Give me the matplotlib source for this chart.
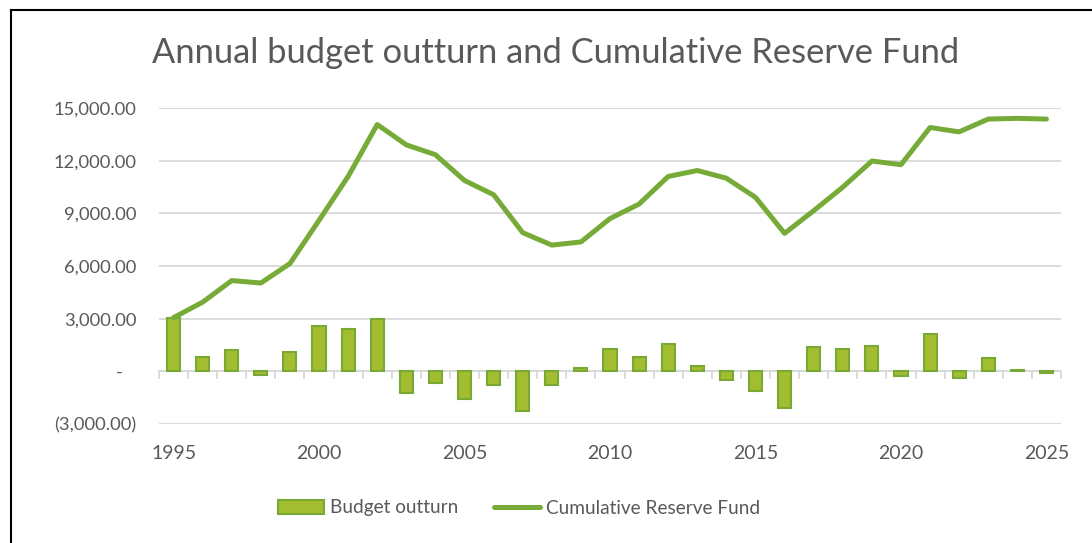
import matplotlib
matplotlib.use("Agg")
import matplotlib.pyplot as plt
from matplotlib.lines import Line2D
from matplotlib.ticker import FuncFormatter, MultipleLocator, FixedLocator
import numpy as np

years = list(range(1995, 2026))
budget_outturn = [3050, 820, 1240, -210, 1110, 2560, 2390, 2960, -1220, -650,
                  -1570, -800, -2240, -780, 190, 1300, 820, 1570, 330, -510,
                  -1130, -2100, 1360, 1300, 1420, -280, 2140, -360, 770, 60,
                  -90]
reserve_fund = [3060, 3940, 5170, 5030, 6140, 8600, 11100, 14060, 12900, 12340,
                10870, 10060, 7900, 7190, 7370, 8700, 9530, 11100, 11440, 11000,
                9910, 7860, 9150, 10490, 11980, 11770, 13890, 13640, 14370, 14410,
                14370]
xtick_labels = ["1995", "2000", "2005", "2010", "2015", "2020", "2025"]
title = "Annual budget outturn and Cumulative Reserve Fund"

FONT = "Lato"
TXT = "#595959"
GRID = "#d9d9d9"
BAR_FILL = "#a3bd31"
BAR_EDGE = "#78a935"
LINE_C = "#77ab38"

fig = plt.figure(figsize=(10.92, 5.43), dpi=100)
ax = fig.add_axes([159/1092, 1-424/543, 902/1092, 316/543])

x = np.arange(len(years))
bars = ax.bar(x, budget_outturn, width=0.45, color=BAR_FILL, edgecolor=BAR_EDGE,
              linewidth=1.5, zorder=3, label="Budget outturn")
line, = ax.plot(x, reserve_fund, color=LINE_C, lw=3.6, solid_capstyle="round",
                solid_joinstyle="round", zorder=4, label="Cumulative Reserve Fund")

ax.set_xlim(-0.5, len(years) - 0.5)
ax.set_ylim(-3000, 15000)
ax.yaxis.set_major_locator(MultipleLocator(3000))

def yfmt(v, pos):
    if abs(v) < 1e-9:
        return "-   "
    if v < 0:
        return "({:,.2f})".format(-v)
    return "{:,.2f}".format(v)

ax.yaxis.set_major_formatter(FuncFormatter(yfmt))
ax.grid(axis="y", color=GRID, lw=1.3, zorder=0)
ax.tick_params(axis="y", length=0, pad=16, labelsize=13.2, labelcolor=TXT)
for lab in ax.get_yticklabels():
    lab.set_fontfamily(FONT)

for s in ["top", "right", "left"]:
    ax.spines[s].set_visible(False)
ax.spines["bottom"].set_position(("data", 0))
ax.spines["bottom"].set_color(GRID)
ax.spines["bottom"].set_linewidth(1.3)
ax.spines["bottom"].set_zorder(2)
ax.xaxis.set_major_locator(FixedLocator(np.arange(-0.5, len(years), 1.0)))
ax.tick_params(axis="x", which="major", length=6, width=1.3, color=GRID,
               direction="out", labelbottom=False)

sec = ax.secondary_xaxis(0)
label_pos = [years.index(int(l)) for l in xtick_labels]
sec.set_xticks(label_pos)
sec.set_xticklabels(xtick_labels)
sec.tick_params(length=0, pad=15, labelsize=14, labelcolor=TXT)
for lab in sec.get_xticklabels():
    lab.set_fontfamily(FONT)
sec.spines["bottom"].set_visible(False)

fig.text(152/1092, 1-53/543, title, fontsize=24.8, color=TXT, family=FONT,
         ha="left", va="center")

leg = fig.legend([bars, line], ["Budget outturn", "Cumulative Reserve Fund"],
                 loc="center", bbox_to_anchor=(519/1092, 1-508/543), ncol=2,
                 frameon=False, handlelength=2.4,
                 handletextpad=0.3, columnspacing=1.9,
                 prop={"family": FONT, "size": 13.7})
for t in leg.get_texts():
    t.set_color(TXT)

# chart border (left and top)
fig.add_artist(Line2D([11/1092, 11/1092], [0, 1-10/543], color="black", lw=1.5,
                      transform=fig.transFigure))
fig.add_artist(Line2D([11/1092, 1], [1-10/543, 1-10/543], color="black", lw=1.5,
                      transform=fig.transFigure))

fig.savefig("out.png", dpi=100)
